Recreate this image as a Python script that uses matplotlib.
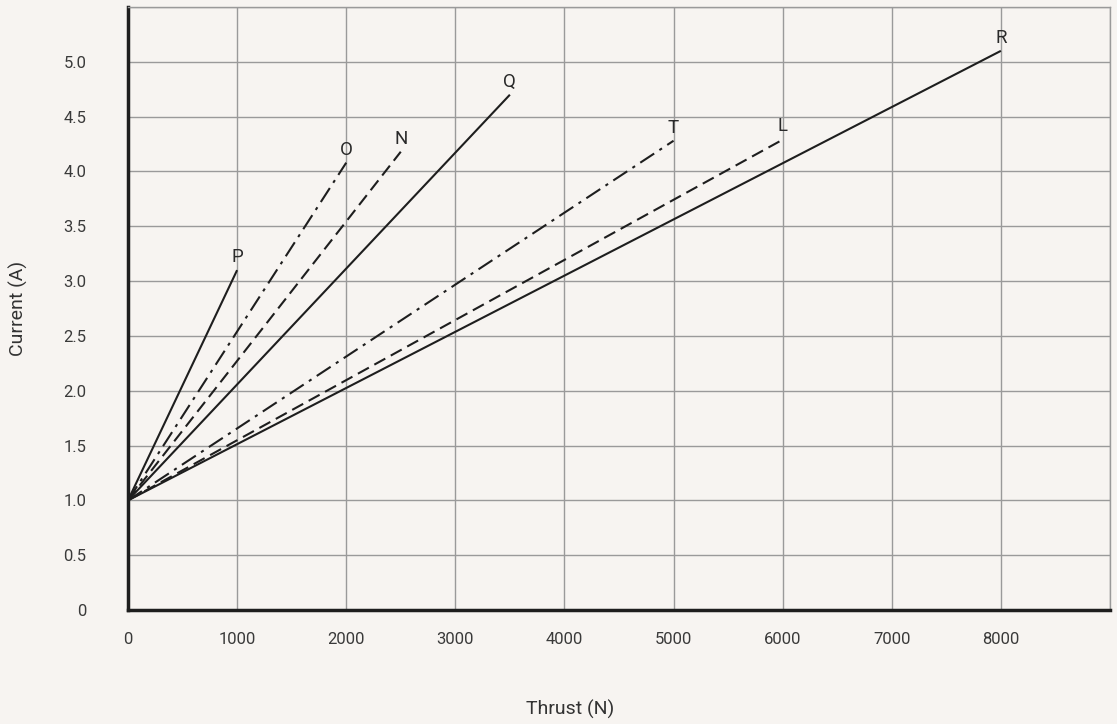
import matplotlib
matplotlib.use("Agg")
import matplotlib.pyplot as plt
from matplotlib import font_manager

names = {f.name for f in font_manager.fontManager.ttflist}
tick_font = "Liberation Sans Narrow" if "Liberation Sans Narrow" in names else "Roboto"

labels = ["P", "O", "N", "Q", "T", "L", "R"]
end_thrust = [1000, 2000, 2500, 3500, 5000, 6000, 8000]
end_current = [3.1, 4.08, 4.18, 4.70, 4.28, 4.29, 5.10]
start_thrust = 0
start_current = 1.0
styles = ["solid", "dashdot", "dashed", "solid", "dashdot", "dashed", "solid"]

x_ticks = [0, 1000, 2000, 3000, 4000, 5000, 6000, 7000, 8000]
y_ticks = [0, 0.5, 1.0, 1.5, 2.0, 2.5, 3.0, 3.5, 4.0, 4.5, 5.0]
y_ticklabels = ["0", "0.5", "1.0", "1.5", "2.0", "2.5", "3.0", "3.5", "4.0", "4.5", "5.0"]

bg = "#f7f4f1"
fig = plt.figure(figsize=(11.17, 7.24), dpi=100, facecolor=bg)
ax = fig.add_axes([128/1117, 1 - 610/724, (1110-128)/1117, (610-7)/724])
ax.set_facecolor(bg)

dash_styles = {"solid": "-", "dashed": (0, (6, 3)), "dashdot": (0, (8, 3, 1.5, 3))}
for lab, xe, ye, st in zip(labels, end_thrust, end_current, styles):
    ax.plot([start_thrust, xe], [start_current, ye], color="#1e1e1e", lw=1.5,
            linestyle=dash_styles[st], solid_capstyle="butt")
    ax.annotate(lab, (xe, ye), xytext=(0, 3), textcoords="offset points",
                ha="center", va="bottom", fontsize=13.5, color="#2a2a2a",
                family="Roboto")

ax.set_xlim(0, 9000)
ax.set_ylim(0, 5.5)
ax.set_xticks(list(range(0, 9001, 1000)))
ax.set_xticklabels([str(t) for t in x_ticks] + [""])
ax.set_yticks(y_ticks + [5.5])
ax.set_yticklabels(y_ticklabels + [""])
ax.grid(True, color="#9a9a9a", lw=1.0)
ax.set_axisbelow(True)
ax.tick_params(length=0, labelsize=12, labelcolor="#3a3a3a")
for lbl in ax.get_xticklabels() + ax.get_yticklabels():
    lbl.set_family(tick_font)
ax.tick_params(axis="y", pad=30)
ax.tick_params(axis="x", pad=16)

for s in ["left", "bottom"]:
    ax.spines[s].set_color("#1e1e1e")
    ax.spines[s].set_linewidth(2.5)
for s in ["top", "right"]:
    ax.spines[s].set_color("#9a9a9a")
    ax.spines[s].set_linewidth(1.0)

fig.text(570/1117, 1 - 709/724, "Thrust (N)", ha="center", va="center",
         fontsize=14, color="#333333", family="Roboto")
fig.text(18/1117, 1 - 308/724, "Current (A)", ha="center", va="center",
         rotation=90, fontsize=14, color="#333333", family="Roboto")

fig.savefig("out.png", dpi=100, facecolor=bg)
